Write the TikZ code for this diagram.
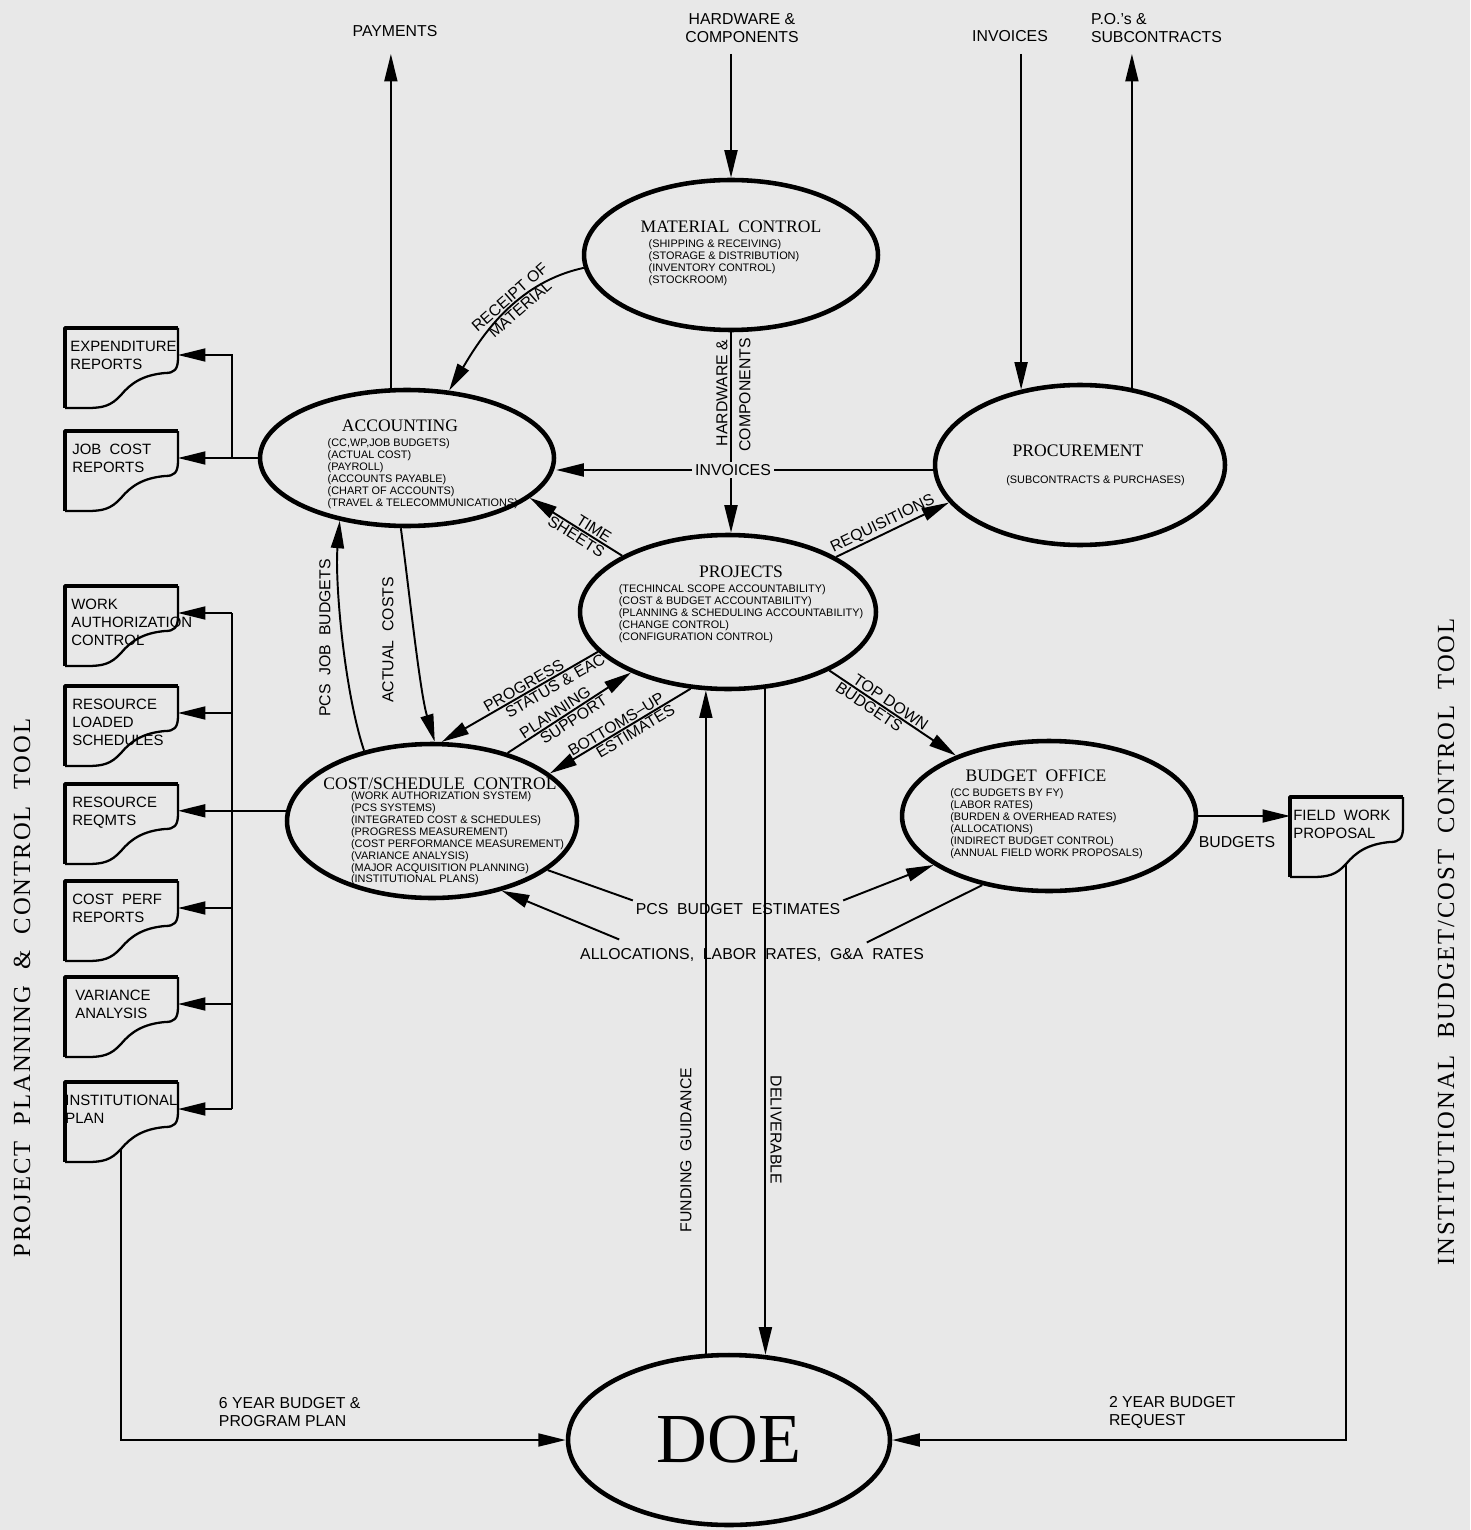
\documentclass[tikz,border=0pt]{standalone}
\usepackage{fontspec}
\setmainfont{Liberation Serif}
\setsansfont{Liberation Sans}
\usepackage{tikz}
\usetikzlibrary{shapes.geometric, arrows.meta, calc}

\definecolor{paper}{gray}{0.91}
\newcommand{\ptitle}{\fontsize{10}{12}\selectfont}
\newcommand{\pitems}[1]{{\sffamily\fontsize{6.2}{6.8}\selectfont\begin{tabular}{@{}l@{}}#1\end{tabular}}}
% report sheet: name, x, y, text, text indent
\newcommand{\docshape}[5]{%
  \begin{scope}[shift={(#2,#3)}]
    \node[doc] (#1) at (0,0) {};
    \coordinate (#1-in) at (113,27);
    \coordinate (#1-out) at (56,67);
    \draw[docedge] (113,0) -- (113,30) .. controls (113,42) and (109,45) .. (100,45)
      .. controls (78,47) and (66,55) .. (56,67) .. controls (46,78) and (38,80) .. (22,80) -- (0,80);
    \draw[docedge, line width=2.2pt] (0,80) -- (0,0) -- (113,0);
    \node[doctext] (#1-t) at (#5,13) {#4};
  \end{scope}}

\begin{document}
\begin{tikzpicture}[
    x=0.02cm, y=-0.02cm,
    proc/.style={ellipse, draw, line width=2.6pt, fill=paper, inner sep=0pt},
    ptext/.style={align=center, inner sep=0pt},
    arrow/.style={-{Triangle[length=5.5mm, width=2.6mm]}, line width=1.1pt},
    link/.style={line width=1.1pt},
    lbl/.style={font=\sffamily\fontsize{9}{10.2}\selectfont, inner sep=1.5pt, align=center},
    slab/.style={lbl, sloped, inner sep=0.8pt},
    side/.style={rotate=90, font=\fontsize{14}{16}\selectfont\addfontfeature{LetterSpace=8}},
    doc/.style={rectangle, anchor=north west, minimum width=2.26cm, minimum height=1.6cm, inner sep=0pt},
    doctext/.style={anchor=north west, align=left, inner sep=0pt, font=\sffamily\fontsize{8.5}{10.2}\selectfont},
    docedge/.style={line width=1.3pt, line join=round}
]
\fill[paper] (0,0) rectangle (1470,1530);
\useasboundingbox (0,0) rectangle (1470,1530);

% 业务单元
\node[proc, minimum width=5.88cm, minimum height=3cm] (mc) at (731,255) {};
\node[ptext] (mc-t) at (731,254) {{\ptitle MATERIAL\ \ CONTROL}\\[2.5pt]\pitems{(SHIPPING \& RECEIVING)\\(STORAGE \& DISTRIBUTION)\\(INVENTORY CONTROL)\\(STOCKROOM)}\hspace*{8pt}};

\node[proc, minimum width=5.88cm, minimum height=2.72cm] (acc) at (407,458) {};
\node[ptext] (acc-t) at (400,465) {{\ptitle ACCOUNTING}\\[2.5pt]\hspace*{26pt}\pitems{(CC,WP,JOB BUDGETS)\\(ACTUAL COST)\\(PAYROLL)\\(ACCOUNTS PAYABLE)\\(CHART OF ACCOUNTS)\\(TRAVEL \& TELECOMMUNICATIONS)}};

\node[proc, minimum width=5.8cm, minimum height=3.2cm] (pr) at (1080,465) {};
\node[ptext] (pr-t) at (1078,466) {{\ptitle PROCUREMENT}\\[4pt]\hspace*{20pt}\pitems{(SUBCONTRACTS \& PURCHASES)}};

\node[proc, minimum width=5.92cm, minimum height=3.08cm] (pj) at (728,612) {};
\node[ptext] (pj-t) at (741,605) {{\ptitle PROJECTS}\\[2.5pt]\pitems{(TECHINCAL SCOPE ACCOUNTABILITY)\\(COST \& BUDGET ACCOUNTABILITY)\\(PLANNING \& SCHEDULING ACCOUNTABILITY)\\(CHANGE CONTROL)\\(CONFIGURATION CONTROL)}};

\node[proc, minimum width=5.8cm, minimum height=3.08cm] (cs) at (432,821) {};
\node[ptext] (cs-t) at (440,832) {{\ptitle COST/SCHEDULE\ \ CONTROL}\\[0pt]\hspace*{20pt}\pitems{(WORK AUTHORIZATION SYSTEM)\\(PCS SYSTEMS)\\(INTEGRATED COST \& SCHEDULES)\\(PROGRESS MEASUREMENT)\\(COST PERFORMANCE MEASUREMENT)\\(VARIANCE ANALYSIS)\\(MAJOR ACQUISITION PLANNING)\\(INSTITUTIONAL PLANS)}};

\node[proc, minimum width=5.88cm, minimum height=3cm] (bo) at (1049,816) {};
\node[ptext] (bo-t) at (1036,815) {{\ptitle BUDGET\ \ OFFICE}\\[2.5pt]\hspace*{12pt}\pitems{(CC BUDGETS BY FY)\\(LABOR RATES)\\(BURDEN \& OVERHEAD RATES)\\(ALLOCATIONS)\\(INDIRECT BUDGET CONTROL)\\(ANNUAL FIELD WORK PROPOSALS)}};

\node[proc, minimum width=6.44cm, minimum height=3.4cm, font=\fontsize{40}{40}\selectfont] (doe) at (729,1440) {DOE};

% 报表
\docshape{exp}{65}{328}{EXPENDITURE\\REPORTS}{5}
\docshape{jobc}{65}{431}{JOB\ \ COST\\REPORTS}{7}
\docshape{wa}{65}{586}{WORK\\AUTHORIZATION\\CONTROL}{6}
\docshape{rl}{65}{686}{RESOURCE\\LOADED\\SCHEDULES}{7}
\docshape{rq}{65}{784}{RESOURCE\\REQMTS}{7}
\docshape{cp}{65}{881}{COST\ \ PERF\\REPORTS}{7}
\docshape{va}{65}{977}{VARIANCE\\ANALYSIS}{10}
\docshape{ip}{65}{1082}{INSTITUTIONAL\\PLAN}{0}
\docshape{fwp}{1290}{797}{FIELD\ \ WORK\\PROPOSAL}{3}

% 侧标题
\node[side] (ppc) at (22,988) {PROJECT\ \ PLANNING\ \ \&\ \ CONTROL\ \ TOOL};
\node[side] (ibc) at (1446,942) {INSTITUTIONAL\ \ BUDGET/COST\ \ CONTROL\ \ TOOL};

% 顶部输入输出
\coordinate (top) at (0,54);
\node[lbl] (pay) at (395,31) {PAYMENTS};
\draw[arrow] (acc.103) -- (acc.103 |- top);
\node[lbl] (hw) at (742,28) {HARDWARE \&\\COMPONENTS};
\draw[arrow] (mc.north |- top) -- (mc.north);
\node[lbl] (inv1) at (1010,36) {INVOICES};
\draw[arrow] (pr.128 |- top) -- (pr.128);
\node[lbl, align=left, anchor=west] (po) at (1088,28) {P.O.'s \&\\SUBCONTRACTS};
\draw[arrow] (pr.56) -- (pr.56 |- top);

% 单元之间
\draw[arrow] (mc.185) .. controls +(-70,15) and +(30,-50) ..
  node[slab, above, pos=.4] (rm1) {RECEIPT OF}
  node[slab, below, pos=.4] (rm2) {MATERIAL} (acc.58);
\draw[arrow] (mc.south) -- (mc.south |- pj.north);
\node[lbl, rotate=90] (hw1) at (722,393) {HARDWARE \&};
\node[lbl, rotate=90] (hw2) at (745,395) {COMPONENTS};

\node[lbl, fill=paper] (inv2) at (733,470) {INVOICES};
\draw[link] (inv2 -| pr.west) -- (inv2);
\draw[arrow] (inv2) -- (inv2 -| acc.east);

\draw[arrow] (pj.27) -- node[slab, above, pos=.45] (req) {REQUISITIONS} (pr.196);
\draw[arrow] (pj.152) -- node[slab, above, pos=.35] (ts1) {TIME}
  node[slab, below, pos=.45] (ts2) {SHEETS} (acc.-18);

\draw[arrow] (cs.134) .. controls +(-20,-60) and +(-5,60) .. (acc.-137);
\node[lbl, rotate=90] (pjb) at (325,638) {PCS\ \ JOB\ \ BUDGETS};
\draw[arrow] (acc.-95) .. controls +(8,60) and +(-15,-50) .. (cs.88);
\node[lbl, rotate=90] (ac) at (388,640) {ACTUAL\ \ COSTS};

\draw[arrow] (pj.197) -- node[slab, above, pos=.45] (ps1) {PROGRESS}
  node[slab, below, pos=.3] (ps2) {STATUS \& EAC} (cs.83);
\draw[arrow] (cs.42) -- node[slab, above, pos=.42] (pl1) {PLANNING}
  node[slab, below, pos=.5] (pl2) {SUPPORT} (pj.212);
\draw[arrow] (pj.244) -- node[slab, above, pos=.5] (bu1) {BOTTOMS--UP}
  node[slab, below, pos=.42] (bu2) {ESTIMATES} (cs.22);
\draw[arrow] (pj.-30) -- node[slab, above, pos=.45] (td1) {TOP DOWN}
  node[slab, below, pos=.35] (td2) {BUDGETS} (bo.147);

% 预算
\node[lbl] (pbe) at (738,909) {PCS\ \ BUDGET\ \ ESTIMATES};
\draw[link] (cs.-23) -- (pbe.north west);
\draw[arrow] (pbe.north east) -- (bo.203);
\node[lbl] (alr) at (752,955) {ALLOCATIONS,\ \ LABOR\ \ RATES,\ \ G\&A\ \ RATES};
\coordinate (alr-r) at ($(alr.north east)+(-60,-3)$);
\coordinate (alr-l) at ($(alr.north west)+(42,-6)$);
\draw[link] (bo.226) -- (alr-r);
\draw[arrow] (alr-l) -- (cs.-45);

\draw[arrow] (bo.east) -- (bo.east -| fwp.west);
\node[lbl] (bud) at (1237,842) {BUDGETS};

% DOE
\draw[arrow] (doe.105) -- (doe.105 |- pj.-105);
\node[lbl, rotate=90] (fg) at (686,1150) {FUNDING\ \ GUIDANCE};
\draw[arrow] (pj.-64) -- (pj.-64 |- doe.68);
\node[lbl, rotate=-90] (dl) at (776,1130) {DELIVERABLE};

\draw[arrow] (ip-out) |- (doe.west);
\node[lbl, align=left, anchor=west] (six) at (216,1412) {6 YEAR BUDGET \&\\PROGRAM PLAN};
\draw[arrow] (fwp-out) |- (doe.east);
\node[lbl, align=left, anchor=west] (two) at (1106,1412) {2 YEAR BUDGET\\REQUEST};

% 报表分发
\coordinate (bus) at (232,0);
\draw[arrow] (acc.west) -- (acc.west -| jobc-in);
\draw[arrow] (acc.west -| bus) |- (exp-in);
\draw[arrow] (cs.176) -- (cs.176 -| rq-in);
\draw[link] (wa-in -| bus) -- (ip-in -| bus);
\draw[arrow] (wa-in -| bus) -- (wa-in);
\draw[arrow] (rl-in -| bus) -- (rl-in);
\draw[arrow] (cp-in -| bus) -- (cp-in);
\draw[arrow] (va-in -| bus) -- (va-in);
\draw[arrow] (ip-in -| bus) -- (ip-in);

\end{tikzpicture}
\end{document}
